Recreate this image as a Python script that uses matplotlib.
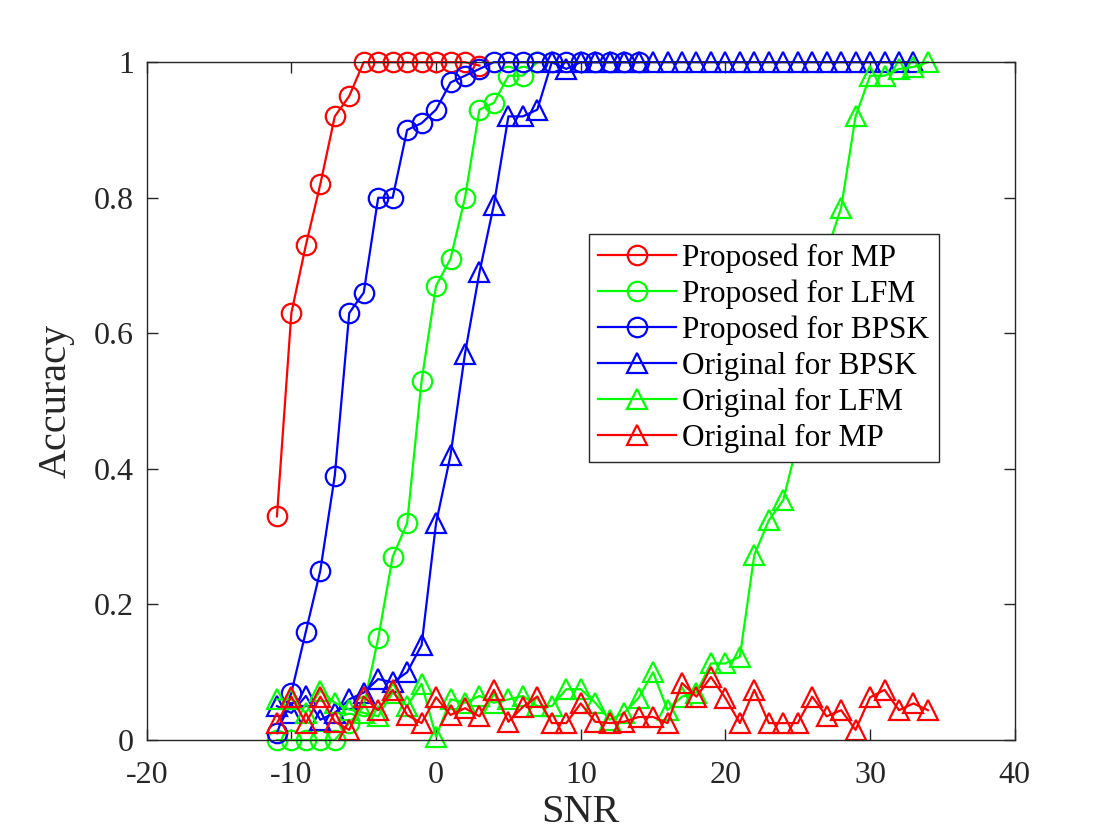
import numpy as np
import matplotlib
matplotlib.use('Agg')
import matplotlib.pyplot as plt

plt.rcParams['font.family'] = ['Liberation Serif', 'DejaVu Serif']
plt.rcParams['axes.unicode_minus'] = False

# proposed method
snr_prop_mp = list(range(-11, 4))
acc_prop_mp = [0.33, 0.63, 0.73, 0.82, 0.92, 0.95, 1.0, 1.0, 1.0, 1.0, 1.0, 1.0, 1.0, 1.0, 0.995]

snr_prop_lfm = list(range(-11, 8))
acc_prop_lfm = [0.0, 0.0, 0.0, 0.0, 0.0, 0.025, 0.05, 0.15, 0.27, 0.32, 0.53, 0.67, 0.71,
                0.80, 0.93, 0.94, 0.98, 0.98, 1.0]

snr_prop_bpsk = list(range(-11, 15))
acc_prop_bpsk = [0.01, 0.07, 0.16, 0.25, 0.39, 0.63, 0.66, 0.80, 0.80, 0.90, 0.91, 0.93, 0.97,
                 0.98, 0.99, 1.0, 1.0, 1.0, 1.0, 1.0, 1.0, 1.0, 1.0, 1.0, 1.0, 1.0]

# original method
snr_orig_bpsk = list(range(-11, 34))
acc_orig_bpsk = [0.05, 0.04, 0.065, 0.03, 0.04, 0.06, 0.07, 0.09, 0.085, 0.10, 0.14,
                 0.32, 0.42, 0.57, 0.69, 0.79, 0.92, 0.92, 0.93, 1.0, 0.99,
                 1.0, 1.0, 1.0, 1.0, 1.0, 1.0, 1.0, 1.0, 1.0, 1.0, 1.0, 1.0,
                 1.0, 1.0, 1.0, 1.0, 1.0, 1.0, 1.0, 1.0, 1.0, 1.0, 1.0, 1.0]

snr_orig_lfm = list(range(-11, 35))
acc_orig_lfm = [0.06, 0.06, 0.04, 0.073, 0.055, 0.045, 0.04, 0.035, 0.07, 0.05, 0.083,
                0.005, 0.06, 0.055, 0.065, 0.055, 0.06, 0.065, 0.05, 0.05, 0.075,
                0.075, 0.055, 0.03, 0.04, 0.062, 0.10, 0.044, 0.064, 0.07, 0.113,
                0.113, 0.123, 0.273, 0.324, 0.354, 0.44, 0.58, 0.72, 0.785, 0.92,
                0.98, 0.98, 0.99, 0.993, 1.0]

snr_orig_mp = list(range(-11, 35))
acc_orig_mp = [0.025, 0.064, 0.025, 0.064, 0.027, 0.015, 0.064, 0.044, 0.074, 0.037, 0.025,
               0.063, 0.037, 0.047, 0.035, 0.074, 0.027, 0.049, 0.064, 0.025, 0.025,
               0.054, 0.027, 0.025, 0.027, 0.034, 0.034, 0.025, 0.084, 0.064, 0.093,
               0.062, 0.025, 0.074, 0.025, 0.025, 0.025, 0.064, 0.035, 0.044, 0.015,
               0.063, 0.074, 0.044, 0.054, 0.044]

fig = plt.figure(figsize=(11.2, 8.4), dpi=100)
ax = fig.add_axes([0.131, 0.119, 0.775, 0.807])

ms = 14
lw = 1.6
mew = 1.6
kw = dict(mfc='none', ms=ms, lw=lw, mew=mew, clip_on=False)
ax.plot(snr_prop_mp, acc_prop_mp, '-o', color='r', label='Proposed for MP', **kw)
ax.plot(snr_prop_lfm, acc_prop_lfm, '-o', color=(0, 1, 0), label='Proposed for LFM', **kw)
ax.plot(snr_prop_bpsk, acc_prop_bpsk, '-o', color='b', label='Proposed for BPSK', **kw)
ax.plot(snr_orig_bpsk, acc_orig_bpsk, '-^', color='b', label='Original for BPSK', **kw)
ax.plot(snr_orig_lfm, acc_orig_lfm, '-^', color=(0, 1, 0), label='Original for LFM', **kw)
ax.plot(snr_orig_mp, acc_orig_mp, '-^', color='r', label='Original for MP', **kw)

ax.set_xlim(-20, 40)
ax.set_ylim(0, 1)
ax.set_xticks([-20, -10, 0, 10, 20, 30, 40])
ax.set_yticks([0, 0.2, 0.4, 0.6, 0.8, 1])
ax.set_yticklabels(['0', '0.2', '0.4', '0.6', '0.8', '1'])

dark = (0.15, 0.15, 0.15)
ax.tick_params(direction='in', top=True, right=True, length=8, width=1, colors=dark,
               labelsize=23)
ax.tick_params(axis='x', pad=15)
ax.tick_params(axis='y', pad=9)
for s in ax.spines.values():
    s.set_color(dark)
    s.set_linewidth(1)

ax.set_xlabel('SNR', fontsize=29, color=dark, labelpad=3)
ax.set_ylabel('Accuracy', fontsize=29, color=dark, labelpad=14)

leg = ax.legend(loc='upper left', bbox_to_anchor=(0.509, 0.747), fontsize=22.5, frameon=True,
                fancybox=False, edgecolor=dark, framealpha=1, handlelength=2.5,
                handletextpad=0.2, labelspacing=0.22, borderpad=0.3, borderaxespad=0,
                markerscale=1.0)
leg.get_frame().set_linewidth(1)
leg.set_zorder(5)

fig.savefig('out.png', dpi=100)
